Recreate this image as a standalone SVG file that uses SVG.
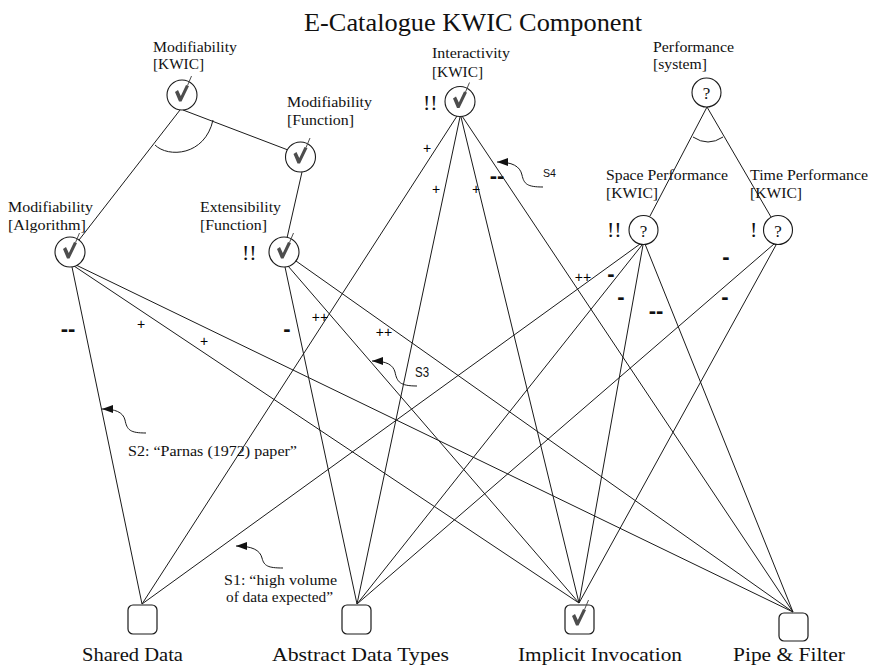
<svg xmlns="http://www.w3.org/2000/svg" width="870" height="665" viewBox="0 0 870 665">
  <style>
    .bg { fill: #ffffff; }
    .edge { stroke: #1a1a1a; stroke-width: 1; fill: none; }
    .goal { fill: #ffffff; stroke: #1a1a1a; stroke-width: 1.1; }
    .op { fill: #ffffff; stroke: #1a1a1a; stroke-width: 1.2; }
    .lbl { font-family: "Liberation Serif", "Times New Roman", serif; font-size: 14px; fill: #111; }
    .big { font-family: "Liberation Serif", "Times New Roman", serif; font-size: 19px; fill: #111; }
    .title { font-family: "Liberation Serif", "Times New Roman", serif; font-size: 26px; fill: #111; }
    .q { font-family: "Liberation Serif", "Times New Roman", serif; font-size: 17px; fill: #111; text-anchor: middle; }
    .crit { font-family: "Liberation Serif", "Times New Roman", serif; font-size: 22px; fill: #111; }
    .plus { font-family: "Liberation Sans", Arial, sans-serif; font-size: 14px; fill: #000; text-anchor: middle; }
    .minus { font-family: "Liberation Sans", Arial, sans-serif; font-size: 22px; font-weight: bold; fill: #111; text-anchor: middle; }
    .claim { font-family: "Liberation Serif", "Times New Roman", serif; font-size: 15px; fill: #111; }
    .sid { font-family: "Liberation Sans", Arial, sans-serif; fill: #111; }
    .tick { fill: #4d4d4d; }
    .tickTail { stroke: #4d4d4d; stroke-width: 1; fill: none; }
    .claimArrow { stroke: #1a1a1a; stroke-width: 1; fill: none; marker-start: url(#head); }
  </style>
  <defs>
    <marker id="head" viewBox="0 0 11 8" refX="11" refY="4" markerWidth="11" markerHeight="8" markerUnits="userSpaceOnUse" orient="auto-start-reverse">
      <path d="M0,0 L11,4 L0,8 z" fill="#111"/>
    </marker>
    <!-- satisficed mark: grey check whose tail pokes out of the node -->
    <g id="tick">
      <polygon class="tick" points="-7,-4 -4,-6 -1.2,0 4,-11 7,-10 -0.5,5.5 -3,5.5"/>
      <line class="tickTail" x1="5.5" y1="-10.5" x2="9.5" y2="-20"/>
    </g>
  </defs>

  <rect class="bg" x="0" y="0" width="870" height="665"/>

  <text class="title" x="304" y="31" textLength="338" lengthAdjust="spacingAndGlyphs">E-Catalogue KWIC Component</text>

  <!-- connectors -->
  <g id="connectors">
    <!-- decompositions -->
    <line class="edge" x1="180" y1="110" x2="79" y2="240"/>
    <line class="edge" x1="183" y1="110" x2="288" y2="150"/>
    <path class="edge" d="M155,145 C168,158 205,156 213,120"/>
    <line class="edge" x1="302" y1="172" x2="287" y2="238"/>
    <line class="edge" x1="707" y1="107" x2="650" y2="216"/>
    <line class="edge" x1="707" y1="107" x2="771" y2="217"/>
    <path class="edge" d="M693,137 Q708,147 723,137"/>

    <!-- contributions from Modifiability [Algorithm] -->
    <line class="edge" x1="72" y1="267" x2="142" y2="604"/>
    <line class="edge" x1="74" y1="266" x2="579" y2="603"/>
    <line class="edge" x1="76" y1="265" x2="793" y2="612"/>
    <!-- contributions from Extensibility [Function] -->
    <line class="edge" x1="285" y1="267" x2="357" y2="604"/>
    <line class="edge" x1="288" y1="266" x2="579" y2="603"/>
    <line class="edge" x1="296" y1="261" x2="793" y2="612"/>
    <!-- contributions from Interactivity [KWIC] -->
    <line class="edge" x1="457" y1="116" x2="142" y2="604"/>
    <line class="edge" x1="460" y1="117" x2="357" y2="604"/>
    <line class="edge" x1="461" y1="117" x2="579" y2="603"/>
    <line class="edge" x1="462" y1="116" x2="793" y2="612"/>
    <!-- contributions from Space Performance [KWIC] -->
    <line class="edge" x1="640" y1="244" x2="142" y2="604"/>
    <line class="edge" x1="642" y1="245" x2="357" y2="604"/>
    <line class="edge" x1="643" y1="245" x2="579" y2="603"/>
    <line class="edge" x1="645" y1="244" x2="793" y2="612"/>
    <!-- contributions from Time Performance [KWIC] -->
    <line class="edge" x1="774" y1="244" x2="357" y2="604"/>
    <line class="edge" x1="776" y1="245" x2="579" y2="603"/>

    <!-- contribution labels -->
    <text class="plus" x="427" y="153">+</text>
    <text class="plus" x="436" y="194">+</text>
    <text class="plus" x="476" y="194">+</text>
    <text class="minus" x="497" y="183">--</text>
    <text class="plus" x="583" y="282">++</text>
    <text class="minus" x="611" y="281">-</text>
    <text class="minus" x="621" y="304">-</text>
    <text class="minus" x="656" y="318">--</text>
    <text class="minus" x="726" y="264">-</text>
    <text class="minus" x="725" y="304">-</text>
    <text class="minus" x="68" y="336">--</text>
    <text class="plus" x="141" y="329">+</text>
    <text class="plus" x="204" y="346">+</text>
    <text class="minus" x="287" y="336">-</text>
    <text class="plus" x="320" y="322">++</text>
    <text class="plus" x="384" y="337">++</text>

    <!-- claims -->
    <path class="claimArrow" d="M497,162 C512,162 520,166 522,175 C524,184 527,187 543,187"/>
    <text class="sid" x="543" y="177" font-size="11" textLength="13" lengthAdjust="spacingAndGlyphs">S4</text>
    <path class="claimArrow" d="M372,361 C387,361 393,365 395,372 C397,382 400,386 417,386"/>
    <text class="sid" x="415" y="377" font-size="14" textLength="14" lengthAdjust="spacingAndGlyphs">S3</text>
    <path class="claimArrow" d="M102,409 C115,409 123,412 125,420 C127,430 130,433 146,433"/>
    <text class="claim" x="128" y="456" textLength="169" lengthAdjust="spacingAndGlyphs">S2: “Parnas (1972) paper”</text>
    <path class="claimArrow" d="M236,546 C252,546 260,550 262,558 C264,566 268,568 283,568"/>
    <text class="claim" x="224" y="585" textLength="113" lengthAdjust="spacingAndGlyphs">S1: “high volume</text>
    <text class="claim" x="226" y="602" textLength="107" lengthAdjust="spacingAndGlyphs">of data expected”</text>
  </g>

  <!-- softgoals -->
  <g id="mod-kwic">
    <circle class="goal" cx="182" cy="95" r="15"/>
    <use href="#tick" transform="translate(182,96)"/>
    <text class="lbl" x="153" y="52" textLength="84" lengthAdjust="spacingAndGlyphs">Modifiability</text>
    <text class="lbl" x="153" y="69" textLength="51" lengthAdjust="spacingAndGlyphs">[KWIC]</text>
  </g>
  <g id="mod-function">
    <circle class="goal" cx="300.5" cy="157" r="15"/>
    <use href="#tick" transform="translate(300.5,158)"/>
    <text class="lbl" x="287" y="107" textLength="85" lengthAdjust="spacingAndGlyphs">Modifiability</text>
    <text class="lbl" x="287" y="125" textLength="67" lengthAdjust="spacingAndGlyphs">[Function]</text>
  </g>
  <g id="mod-algorithm">
    <circle class="goal" cx="70" cy="252" r="15"/>
    <use href="#tick" transform="translate(70,253)"/>
    <text class="lbl" x="8" y="212" textLength="85" lengthAdjust="spacingAndGlyphs">Modifiability</text>
    <text class="lbl" x="8" y="230" textLength="78" lengthAdjust="spacingAndGlyphs">[Algorithm]</text>
  </g>
  <g id="ext-function">
    <circle class="goal" cx="284" cy="252" r="15"/>
    <use href="#tick" transform="translate(284,253)"/>
    <text class="lbl" x="200" y="212" textLength="81" lengthAdjust="spacingAndGlyphs">Extensibility</text>
    <text class="lbl" x="200" y="230" textLength="67" lengthAdjust="spacingAndGlyphs">[Function]</text>
    <text class="crit" x="242" y="260">!!</text>
  </g>
  <g id="interactivity-kwic">
    <circle class="goal" cx="460" cy="101.5" r="15"/>
    <use href="#tick" transform="translate(460,102.5)"/>
    <text class="lbl" x="432" y="58" textLength="78" lengthAdjust="spacingAndGlyphs">Interactivity</text>
    <text class="lbl" x="432" y="77" textLength="51" lengthAdjust="spacingAndGlyphs">[KWIC]</text>
    <text class="crit" x="423" y="110">!!</text>
  </g>
  <g id="performance-system">
    <circle class="goal" cx="706.5" cy="92.5" r="14.5"/>
    <text class="q" x="706.5" y="98.5">?</text>
    <text class="lbl" x="653" y="52" textLength="81" lengthAdjust="spacingAndGlyphs">Performance</text>
    <text class="lbl" x="653" y="69" textLength="54" lengthAdjust="spacingAndGlyphs">[system]</text>
  </g>
  <g id="space-performance-kwic">
    <circle class="goal" cx="643.5" cy="230" r="14.5"/>
    <text class="q" x="643.5" y="237">?</text>
    <text class="lbl" x="606" y="180" textLength="122" lengthAdjust="spacingAndGlyphs">Space Performance</text>
    <text class="lbl" x="606" y="198" textLength="52" lengthAdjust="spacingAndGlyphs">[KWIC]</text>
    <text class="crit" x="607" y="237">!!</text>
  </g>
  <g id="time-performance-kwic">
    <circle class="goal" cx="778" cy="230" r="14.5"/>
    <text class="q" x="778" y="237">?</text>
    <text class="lbl" x="750" y="180" textLength="118" lengthAdjust="spacingAndGlyphs">Time Performance</text>
    <text class="lbl" x="750" y="198" textLength="52" lengthAdjust="spacingAndGlyphs">[KWIC]</text>
    <text class="crit" x="750" y="237">!</text>
  </g>

  <!-- operationalizations -->
  <g id="shared-data">
    <rect class="op" x="128" y="605" width="29" height="29" rx="5"/>
    <text class="big" x="82" y="661" textLength="101" lengthAdjust="spacingAndGlyphs">Shared Data</text>
  </g>
  <g id="abstract-data-types">
    <rect class="op" x="342" y="605" width="29" height="29" rx="5"/>
    <text class="big" x="272" y="661" textLength="177" lengthAdjust="spacingAndGlyphs">Abstract Data Types</text>
  </g>
  <g id="implicit-invocation">
    <rect class="op" x="565" y="605" width="29" height="29" rx="5"/>
    <use href="#tick" transform="translate(579,620)"/>
    <text class="big" x="518" y="661" textLength="164" lengthAdjust="spacingAndGlyphs">Implicit Invocation</text>
  </g>
  <g id="pipe-filter">
    <rect class="op" x="779" y="613" width="29" height="28" rx="5"/>
    <text class="big" x="733" y="661" textLength="112" lengthAdjust="spacingAndGlyphs">Pipe &amp; Filter</text>
  </g>
</svg>
